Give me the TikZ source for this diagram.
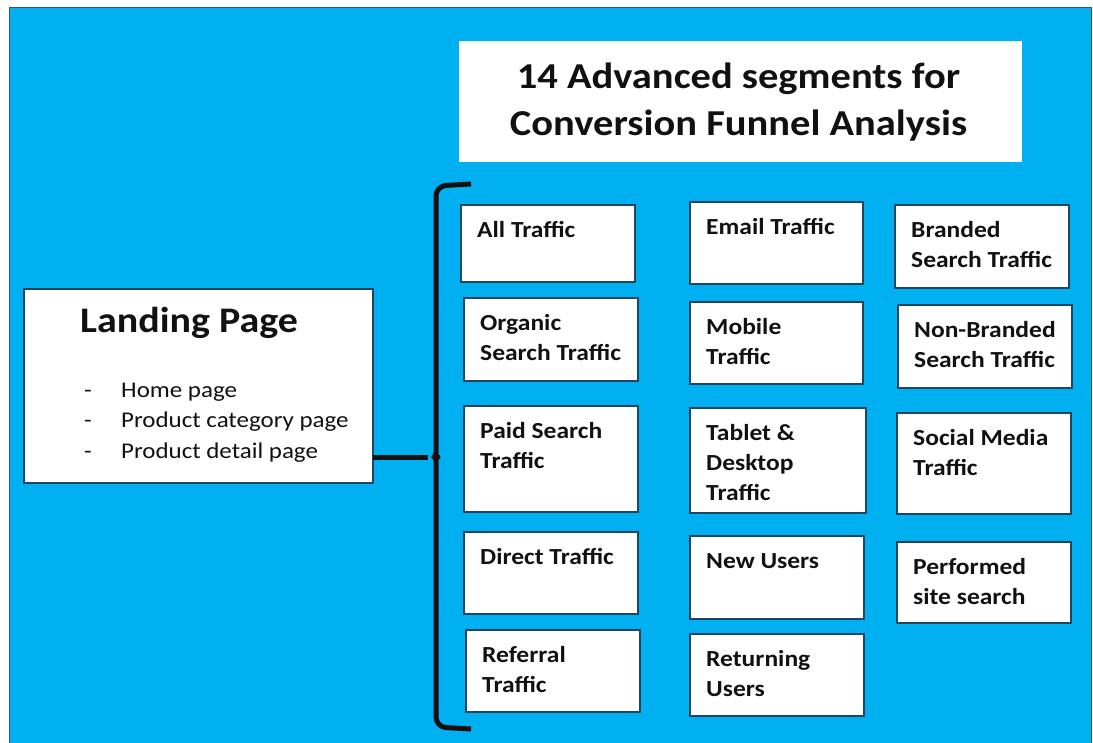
\documentclass[tikz,border=0pt]{standalone}
\usepackage{fontspec}
\setmainfont{Carlito}[FakeStretch=1.11]

\definecolor{skyfill}{HTML}{00B0F0}
\definecolor{frameedge}{HTML}{2A5C74}
\definecolor{boxedge}{HTML}{1F4660}
\definecolor{inkblack}{HTML}{111111}

\newcommand\segfont{\fontsize{23}{30}\selectfont\bfseries}
\newcommand\headfont{\fontsize{36.5}{47}\selectfont\bfseries}
\newcommand\landfont{\fontsize{36}{44}\selectfont\bfseries}
\newcommand\itemfont{\fontsize{22.5}{30}\selectfont}

\tikzset{
  segbox/.style={draw=boxedge, line width=1.6pt, fill=white, inner sep=0pt,
    outer sep=0pt, anchor=north west},
  segtext/.style={anchor=north west, align=left, inner sep=0pt, font=\segfont,
    text=inkblack},
  bracket/.style={draw=inkblack, line width=5pt, line join=round},
  plain/.style={inner sep=0pt, text=inkblack},
}

% one segment: name, left, top, right, bottom, label
\newcommand\segment[6]{%
  \node[segbox, minimum width={#4-#2}, minimum height={#5-#3}] (#1) at (#2,#3) {};
  \node[segtext] (#1-label) at ([xshift=16pt,yshift=-11pt]#1.north west) {\strut #6};}

\begin{document}
\begin{tikzpicture}[x=1pt,y=-1pt]
\useasboundingbox (0,0) rectangle (1093,743);
\fill[white] (0,0) rectangle (1093,743);
\draw[fill=skyfill, draw=frameedge, line width=1.5pt] (9.5,7.5) rectangle (1091.5,760);

% heading
\node[fill=white, inner sep=0pt, anchor=north west, minimum width=563, minimum height=121]
  (headbox) at (459,41) {};
\node[plain, anchor=north, align=center, font=\headfont] (head) at (738.5,55.1)
  {\strut 14 Advanced segments for\\Conversion Funnel Analysis};

% landing page box
\node[segbox, minimum width=349, minimum height=194] (land) at (24,289) {};
\node[plain, anchor=base west, font=\landfont] (landtitle) at (80,333) {Landing Page};
\foreach \t [count=\i] in {Home page, Product category page, Product detail page} {
  \node[plain, anchor=base west, font=\itemfont] (dash\i) at (84,{368+30*\i}) {-};
  \node[plain, anchor=base west, font=\itemfont] (item\i) at (121,{368+30*\i}) {\t};
}

% bracket joining the landing page to the segments
\coordinate (cusp) at (428,457);
\draw[bracket, rounded corners=10pt] (471,184) -- (436,186) -- (436,444)
  .. controls (436,452) and (434,457) .. (cusp)
  .. controls (434,457) and (436,462) .. (436,470) -- (436,727) -- (471,729);
\draw[bracket] (land.east |- cusp) -- (cusp);

% first column
\segment{all}{461}{205}{635}{282}{All Traffic}
\segment{organic}{464}{298}{638}{381}{Organic\\Search Traffic}
\segment{paid}{464}{406}{638}{512}{Paid Search\\Traffic}
\segment{direct}{464}{532}{638}{614}{Direct Traffic}
\segment{referral}{466}{630}{640}{712}{Referral\\Traffic}

% second column
\segment{email}{690}{202}{863}{284}{Email Traffic}
\segment{mobile}{690}{302}{863}{384}{Mobile\\Traffic}
\segment{tablet}{690}{408}{866}{513}{Tablet \&\\Desktop\\Traffic}
\segment{newusers}{690}{536}{864}{619}{New Users}
\segment{returning}{690}{634}{864}{716}{Returning\\Users}

% third column
\segment{branded}{895}{205}{1069}{288}{Branded\\Search Traffic}
\segment{nonbranded}{898}{305}{1072}{388}{Non-Branded\\Search Traffic}
\segment{social}{897}{413}{1071}{514}{Social Media\\Traffic}
\segment{sitesearch}{897}{542}{1071}{623}{Performed\\site search}
\end{tikzpicture}
\end{document}
